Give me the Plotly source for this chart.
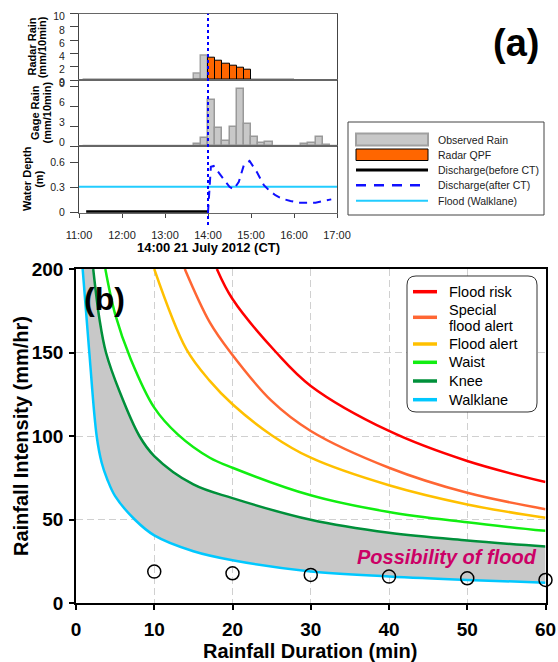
import plotly.graph_objects as go

W, H = 558, 662
def px(x): return x / W
def py(y): return 1 - y / H

DAY = "2012-07-21 "
def t(lst): return [DAY + s for s in lst]

FONT = "Liberation Sans, Arial, Helvetica, sans-serif"

# ---------------- Panel (a) data ----------------
time_ticks = ["11:00", "12:00", "13:00", "14:00", "15:00", "16:00", "17:00"]
radar_obs_times = ["13:40", "13:50"]
radar_obs_mm = [0.9, 3.6]
qpf_times = ["14:00", "14:10", "14:20", "14:30", "14:40", "14:50"]
qpf_mm = [3.3, 2.9, 2.5, 2.15, 1.8, 1.55]
radar_zero_times = ["11:05", "16:00"]
radar_zero_mm = [0, 0]
gage_times = ["13:40", "13:50", "14:00", "14:10", "14:20", "14:30", "14:40", "14:50",
              "15:00", "15:10", "15:20", "16:10", "16:20", "16:30", "16:40"]
gage_mm = [0.3, 1.15, 6.9, 2.65, 0.75, 2.9, 8.5, 3.25, 1.4, 0.4, 0.55, 0.35, 0.5, 1.4, 0.2]
gage_zero_times = ["11:05", "17:00"]
gage_zero_mm = [0, 0]
depth_before_times = ["11:10", "14:00"]
depth_before_m = [0.01, 0.01]
depth_after_times = ["14:00", "14:02", "14:04", "14:08", "14:20", "14:30", "14:36", "14:43",
                     "14:50", "14:58", "15:08", "15:18", "15:25", "15:34", "15:43", "15:55",
                     "16:07", "16:30", "16:40", "16:52"]
depth_after_m = [0.0, 0.28, 0.55, 0.56, 0.42, 0.31, 0.28, 0.37, 0.57, 0.62, 0.49, 0.33,
                 0.27, 0.21, 0.17, 0.14, 0.12, 0.12, 0.14, 0.16]
flood_times = ["11:00", "17:00"]
flood_walklane_m = [0.31, 0.31]
ct_time = "14:00"

legend_a_labels = ["Observed Rain", "Radar QPF", "Discharge(before CT)",
                   "Discharge(after CT)", "Flood (Walklane)"]

# ---------------- Panel (b) data ----------------
risk_D = [18, 20, 25.6, 30, 40, 50, 60]
risk_I = [200, 182, 150, 130, 103, 85, 72.4]
special_D = [13.9, 17.1, 19.75, 25, 30, 40, 50, 60]
special_I = [200, 168, 150, 121, 103, 81, 66, 56.2]
alert_D = [10, 14.1, 17.1, 20, 25, 30, 40, 50, 60]
alert_I = [200, 152, 133, 119, 100.5, 87, 70.5, 59, 51]
waist_D = [3.75, 5, 7, 10, 13, 17.1, 20, 30, 40, 50, 60]
waist_I = [200, 173, 146, 117, 101, 87, 81, 64.5, 54.5, 48.3, 43.2]
knee_D = [2.2, 3, 3.83, 5.62, 8.1, 10, 15, 20, 30, 40, 50, 60]
knee_I = [200, 170, 150, 126, 100, 88, 71, 62.8, 49.8, 42, 37.4, 33.8]
walk_D = [0.85, 1.7, 2.64, 3.28, 4, 5, 7.5, 10, 15, 20, 30, 40, 50, 60]
walk_I = [200, 150, 100, 84, 74, 64, 50, 40.5, 31, 25.6, 18.9, 15.9, 13.8, 12.2]
obs_D = [10, 20, 30, 40, 50, 60]
obs_I = [18.8, 17.8, 16.8, 15.8, 14.8, 13.8]

curve_colors = ["#ff0000", "#ff6633", "#ffc000", "#11ee11", "#00903a", "#00c8ff"]

fig = go.Figure()

# ---- Panel (a) traces ----
fig.add_trace(go.Scatter(x=t(radar_zero_times), y=radar_zero_mm, mode="lines",
                         line=dict(color="black", width=2.5), xaxis="x", yaxis="y"))
fig.add_trace(go.Bar(x=t(radar_obs_times), y=radar_obs_mm, width=600000, offset=0,
                     marker=dict(color="#c8c8c8", line=dict(color="#a0a0a0", width=1.5)),
                     xaxis="x", yaxis="y"))
fig.add_trace(go.Bar(x=t(qpf_times), y=qpf_mm, width=600000, offset=0,
                     marker=dict(color="#ff6600", line=dict(color="black", width=1)),
                     xaxis="x", yaxis="y"))

fig.add_trace(go.Scatter(x=t(gage_zero_times), y=gage_zero_mm, mode="lines",
                         line=dict(color="#a0a0a0", width=2.5), xaxis="x2", yaxis="y2"))
fig.add_trace(go.Bar(x=t(gage_times), y=gage_mm, width=600000, offset=0,
                     marker=dict(color="#c8c8c8", line=dict(color="#999999", width=1.5)),
                     xaxis="x2", yaxis="y2"))

fig.add_trace(go.Scatter(x=t(flood_times), y=flood_walklane_m, mode="lines",
                         line=dict(color="#22ccff", width=2), xaxis="x3", yaxis="y3"))
fig.add_trace(go.Scatter(x=t(depth_before_times), y=depth_before_m, mode="lines",
                         line=dict(color="black", width=3), xaxis="x3", yaxis="y3"))
fig.add_trace(go.Scatter(x=t(depth_after_times), y=depth_after_m, mode="lines",
                         line=dict(color="#1010ff", width=2, dash="8px,6px"),
                         xaxis="x3", yaxis="y3"))

# ---- Panel (b) traces ----
fig.add_trace(go.Scatter(x=knee_D, y=knee_I, mode="lines", line=dict(width=0, shape="spline"),
                         xaxis="x4", yaxis="y4", hoverinfo="skip"))
fig.add_trace(go.Scatter(x=walk_D, y=walk_I, mode="lines", line=dict(width=0, shape="spline"),
                         fill="tonexty", fillcolor="#c8c8c8",
                         xaxis="x4", yaxis="y4", hoverinfo="skip"))

for Dx, Iy, c in zip([risk_D, special_D, alert_D, waist_D, knee_D, walk_D],
                     [risk_I, special_I, alert_I, waist_I, knee_I, walk_I], curve_colors):
    fig.add_trace(go.Scatter(x=Dx, y=Iy, mode="lines",
                             line=dict(color=c, width=2.5, shape="spline"),
                             xaxis="x4", yaxis="y4"))

fig.add_trace(go.Scatter(x=obs_D, y=obs_I, mode="markers", cliponaxis=False,
                         marker=dict(symbol="circle-open", size=13, color="black",
                                     line=dict(width=1.5)),
                         xaxis="x4", yaxis="y4"))

# ---- Axes ----
xa_common = dict(type="date", range=[DAY + "11:00", DAY + "17:00"], showgrid=False,
                 zeroline=False, showline=True, linecolor="#666", linewidth=1, mirror=True,
                 domain=[px(79), px(337)], automargin=False)
ya_common = dict(showgrid=False, zeroline=False, showline=True, linecolor="#444",
                 linewidth=1, mirror=True, ticks="outside", ticklen=8, tickcolor="#444",
                 tickfont=dict(size=10.5, color="#222"), ticklabelstandoff=3, automargin=False)

fig.update_layout(
    xaxis=dict(**xa_common, anchor="y", showticklabels=False, ticks=""),
    xaxis2=dict(**xa_common, anchor="y2", showticklabels=False, ticks=""),
    xaxis3=dict(**xa_common, anchor="y3", tickvals=t(time_ticks), ticktext=time_ticks,
                ticks="outside", ticklen=4, tickcolor="#444",
                tickfont=dict(size=11, color="#222"), ticklabelstandoff=8),
    yaxis=dict(**ya_common, domain=[py(80), py(13.7)], anchor="x", range=[0, 10],
               tickvals=[0, 2, 4, 6, 8, 10], ticklabelshift=3),
    yaxis2=dict(**ya_common, domain=[py(146), py(80)], anchor="x2", range=[0, 9.9],
                tickvals=[0, 3, 6, 9], ticklabelshift=-4),
    yaxis3=dict(**ya_common, domain=[py(212.7), py(146)], anchor="x3", range=[0, 0.8],
                tickvals=[0, 0.3, 0.6], ticktext=["0", "0.3", "0.6"]),
    xaxis4=dict(domain=[px(76), px(545.5)], anchor="y4", range=[0, 60], automargin=False,
                tickvals=[0, 10, 20, 30, 40, 50, 60], ticks="outside", ticklen=5,
                tickwidth=1.5, tickcolor="black", showline=True, linecolor="black",
                linewidth=1.5, mirror=True, showgrid=True, gridcolor="#d0d0d0",
                griddash="7px,4px", gridwidth=1.3, zeroline=False,
                tickfont=dict(size=19, color="black", weight="bold"), ticklabelstandoff=3),
    yaxis4=dict(domain=[py(603), py(269)], anchor="x4", range=[0, 200], automargin=False,
                tickvals=[0, 50, 100, 150, 200], ticks="outside", ticklen=5,
                tickwidth=1.5, tickcolor="black", showline=True, linecolor="black",
                linewidth=1.5, mirror=True, showgrid=True, gridcolor="#d0d0d0",
                griddash="7px,4px", gridwidth=1.3, zeroline=False,
                tickfont=dict(size=19, color="black", weight="bold"), ticklabelstandoff=2),
)

shapes = []
annotations = []

# CT vertical dotted line
shapes.append(dict(type="line", xref="x", yref="paper", x0=DAY + ct_time, x1=DAY + ct_time,
                   y0=py(225), y1=py(13.7), line=dict(color="#0000ff", width=2, dash="dot")))

# Panel (a) legend
shapes.append(dict(type="rect", xref="paper", yref="paper", x0=px(348), x1=px(544),
                   y0=py(215), y1=py(122), line=dict(color="#444", width=1), fillcolor="white"))
shapes.append(dict(type="rect", xref="paper", yref="paper", x0=px(356), x1=px(428),
                   y0=py(145.5), y1=py(133.5), line=dict(color="#a0a0a0", width=2),
                   fillcolor="#c8c8c8"))
shapes.append(dict(type="rect", xref="paper", yref="paper", x0=px(356), x1=px(428),
                   y0=py(160.5), y1=py(149), line=dict(color="black", width=1),
                   fillcolor="#ff6600"))
shapes.append(dict(type="line", xref="paper", yref="paper", x0=px(356), x1=px(428),
                   y0=py(170), y1=py(170), line=dict(color="black", width=3)))
shapes.append(dict(type="line", xref="paper", yref="paper", x0=px(356), x1=px(428),
                   y0=py(185.3), y1=py(185.3), line=dict(color="#1010ff", width=2.5, dash="10px,8px")))
shapes.append(dict(type="line", xref="paper", yref="paper", x0=px(356), x1=px(428),
                   y0=py(200.7), y1=py(200.7), line=dict(color="#22ccff", width=2)))
for lab, yy in zip(legend_a_labels, [139.5, 154.7, 170, 185.3, 200.7]):
    annotations.append(dict(text=lab, xref="paper", yref="paper", x=px(436), y=py(yy),
                            xanchor="left", yanchor="middle", showarrow=False,
                            font=dict(size=10.5, color="#222")))

# Panel (a) titles
def rot(text, x, y, size=11):
    annotations.append(dict(text="<b>%s</b>" % text, xref="paper", yref="paper",
                            x=px(x), y=py(y), xanchor="center", yanchor="middle",
                            textangle=-90, showarrow=False, font=dict(size=size, color="black")))
rot("Radar Rain", 31.5, 47)
rot("(mm/10min)", 42.3, 47)
rot("Gage Rain", 35, 113)
rot("(mm/10min)", 46.5, 113)
rot("Water Depth", 27, 179)
rot("(m)", 38.8, 179)
annotations.append(dict(text="<b>14:00 21 July 2012 (CT)</b>", xref="paper", yref="paper",
                        x=px(208), y=py(247.5), xanchor="center", yanchor="middle",
                        showarrow=False, font=dict(size=13, color="black")))
annotations.append(dict(text="<b>(a)</b>", xref="paper", yref="paper", x=px(516), y=py(43),
                        xanchor="center", yanchor="middle", showarrow=False,
                        font=dict(size=38, color="black")))

# Panel (b) titles and labels
annotations.append(dict(text="<b>Rainfall Duration (min)</b>", xref="paper", yref="paper",
                        x=px(310), y=py(651), xanchor="center", yanchor="middle",
                        showarrow=False, font=dict(size=20, color="black")))
annotations.append(dict(text="<b>Rainfall Intensity (mm/hr)</b>", xref="paper", yref="paper",
                        x=px(21), y=py(436), xanchor="center", yanchor="middle",
                        textangle=-90, showarrow=False, font=dict(size=20, color="black")))
annotations.append(dict(text="<b>(b)</b>", xref="paper", yref="paper", x=px(104), y=py(299),
                        xanchor="center", yanchor="middle", showarrow=False,
                        font=dict(size=32, color="black")))
annotations.append(dict(text="<b><i>Possibility of flood</i></b>", xref="paper", yref="paper",
                        x=px(539), y=py(557), xanchor="right", yanchor="middle",
                        showarrow=False, font=dict(size=20, color="#cc0066")))

# Panel (b) legend (rounded box)
x0, y0, x1, y1, r = px(407), py(276), px(537), py(412), 9
rx, ry = r / W, r / H
path = ("M %f,%f L %f,%f Q %f,%f %f,%f L %f,%f Q %f,%f %f,%f L %f,%f Q %f,%f %f,%f "
        "L %f,%f Q %f,%f %f,%f Z") % (
    x0 + rx, y0, x1 - rx, y0, x1, y0, x1, y0 - ry,
    x1, y1 + ry, x1, y1, x1 - rx, y1,
    x0 + rx, y1, x0, y1, x0, y1 + ry,
    x0, y0 - ry, x0, y0, x0 + rx, y0)
shapes.append(dict(type="path", xref="paper", yref="paper", path=path,
                   line=dict(color="#333", width=1), fillcolor="white"))
leg_line_y = [291.7, 317.3, 344, 362.3, 381, 399.7]
for c, yy in zip(curve_colors, leg_line_y):
    shapes.append(dict(type="line", xref="paper", yref="paper", x0=px(413), x1=px(437),
                       y0=py(yy), y1=py(yy), line=dict(color=c, width=3.5)))
leg_text = [("Flood risk", 291.7), ("Special", 309.6), ("flood alert", 326.2),
            ("Flood alert", 344), ("Waist", 362.3), ("Knee", 381), ("Walklane", 399.7)]
for txt, yy in leg_text:
    annotations.append(dict(text=txt, xref="paper", yref="paper", x=px(447), y=py(yy),
                            xanchor="left", yanchor="middle", showarrow=False, align="left",
                            font=dict(size=14.5, color="black")))

fig.update_layout(width=W, height=H, margin=dict(l=0, r=0, t=0, b=0),
                  plot_bgcolor="white", paper_bgcolor="white", showlegend=False,
                  barmode="overlay", bargap=0, font=dict(family=FONT, color="black"),
                  shapes=shapes, annotations=annotations)

fig.write_html("out.html", config={"displayModeBar": False},
               post_script="document.body.style.margin='0px';document.body.style.padding='0px';")
